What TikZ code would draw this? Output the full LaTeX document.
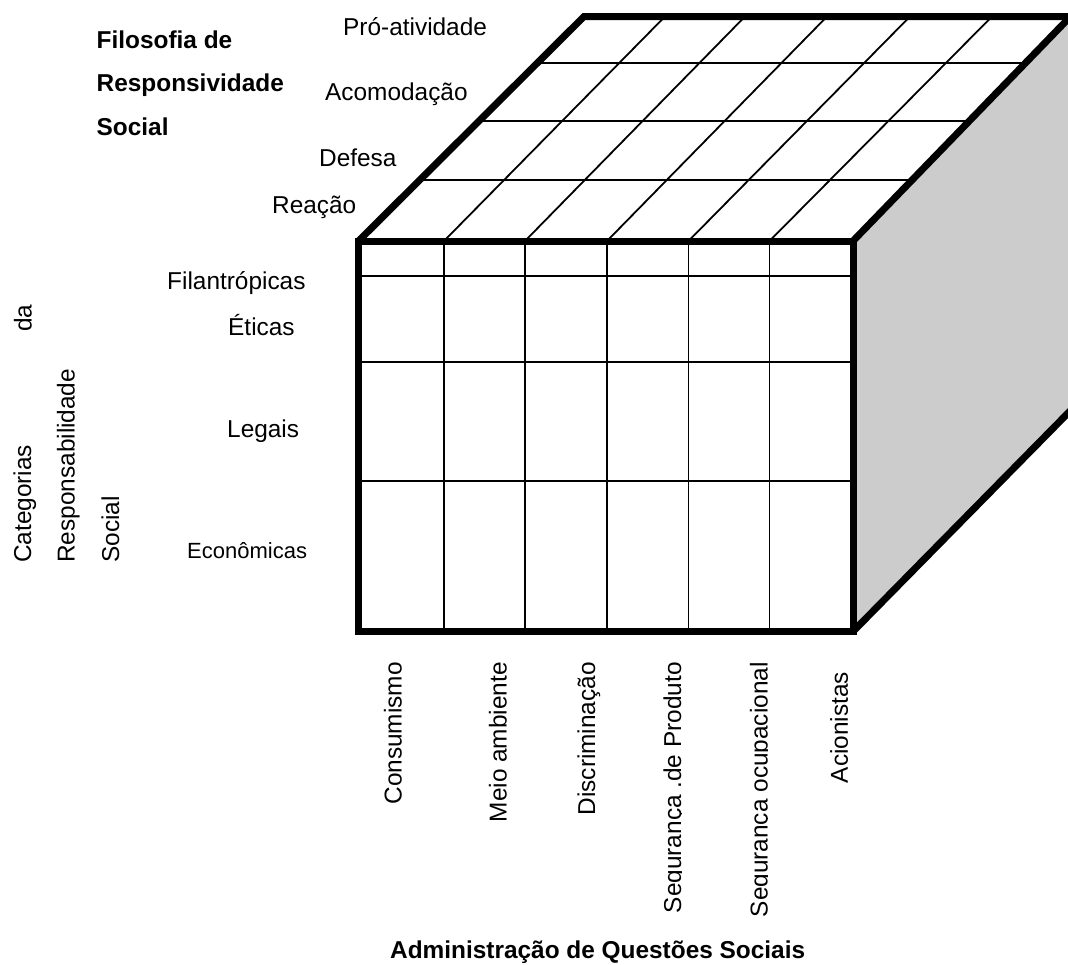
\documentclass[tikz,border=0pt]{standalone}
\usepackage{fontspec}
\setmainfont{Liberation Sans}
\begin{document}
\begin{tikzpicture}[x=1pt,y=-1pt,
  thickedge/.style={line width=7pt, line join=miter},
  gridline/.style={line width=1.8pt},
  lab/.style={inner sep=0pt, font=\fontsize{24.4}{28}\selectfont},
  blab/.style={inner sep=0pt, font=\fontsize{24.4}{28}\selectfont\bfseries},
  vlab/.style={lab, rotate=90}]
\clip (0,0) rectangle (1068,964);
\fill[white] (0,0) rectangle (1068,964);
% right face
\fill[gray!40] (853,241) -- (1072,16) -- (1072,409) -- (853,631.5) -- cycle;
% top face grid
\foreach \f/\b in {444/665, 525/745, 607/827, 688.5/910, 769.5/992}
  \draw[gridline] (\f,241) -- (\b,16.5);
\draw[gridline] (537.6,62.7) -- (1025.6,62.7);
\draw[gridline] (479.3,120.7) -- (969.4,120.7);
\draw[gridline] (419.8,180) -- (912,180);
% front face grid
\foreach \f in {444, 525, 607, 688.5, 769.5}
  \draw[gridline] (\f,241) -- (\f,631.5);
\foreach \y in {275.7, 361.7, 481}
  \draw[gridline] (358.5,\y) -- (853,\y);
% thick outlines
\draw[thickedge] (358.5,241) rectangle (853,631.5);
\draw[thickedge] (358.5,241) -- (584,16.5) -- (1080,16.5);
\draw[thickedge] (853,241) -- (1070.5,16.5);
\draw[thickedge] (853,631.5) -- (1072,409);
% titles
\node[blab, anchor=base west] (f1) at (96.5,48) {Filosofia de};
\node[blab, anchor=base west] (f2) at (96.5,91.8) {Responsividade};
\node[blab, anchor=base west] (f3) at (96.5,135.5) {Social};
\node[blab, anchor=base west] (adm) at (390,958.5) {Administração de Questões Sociais};
% top labels
\node[lab, anchor=base west] (pro) at (343,35) {Pró-atividade};
\node[lab, anchor=base west] (aco) at (325,100.5) {Acomodação};
\node[lab, anchor=base west] (def) at (319,166) {Defesa};
\node[lab, anchor=base west] (rea) at (272,213.5) {Reação};
% front labels
\node[lab, anchor=base west] (fil) at (167,289.5) {Filantrópicas};
\node[lab, anchor=base west] (eti) at (228,335.5) {Éticas};
\node[lab, anchor=base west] (leg) at (227,437) {Legais};
\node[inner sep=0pt, font=\fontsize{22}{26}\selectfont, anchor=base west] (eco) at (187,558.5) {Econômicas};
% left vertical labels
\node[vlab, anchor=base west] (cat) at (31,563) {Categorias};
\node[vlab, anchor=base west] (da) at (31.5,332) {da};
\node[vlab, anchor=base west] (res) at (74.5,563) {Responsabilidade};
\node[vlab, anchor=base west] (soc) at (119,563) {Social};
% bottom vertical labels
\node[vlab, anchor=base east] (con) at (401.5,662) {Consumismo};
\node[vlab, anchor=base east] (mei) at (506.5,662) {Meio ambiente};
\node[vlab, anchor=base east] (dis) at (595,662) {Discriminação};
\begin{scope}
  \clip (600,640) rectangle (681.5,930);
  \node[vlab, anchor=base east] (sp) at (681,662) {Segurança .de Produto};
\end{scope}
\begin{scope}
  \clip (700,640) rectangle (767.5,917.5);
  \node[vlab, anchor=base east] (so) at (767.5,662) {Segurança ocupacional};
\end{scope}
\begin{scope}
  \clip (800,640) rectangle (848.3,900);
  \node[vlab, anchor=base east] (aci) at (847.8,671.7) {Acionistas};
\end{scope}
\end{tikzpicture}
\end{document}
